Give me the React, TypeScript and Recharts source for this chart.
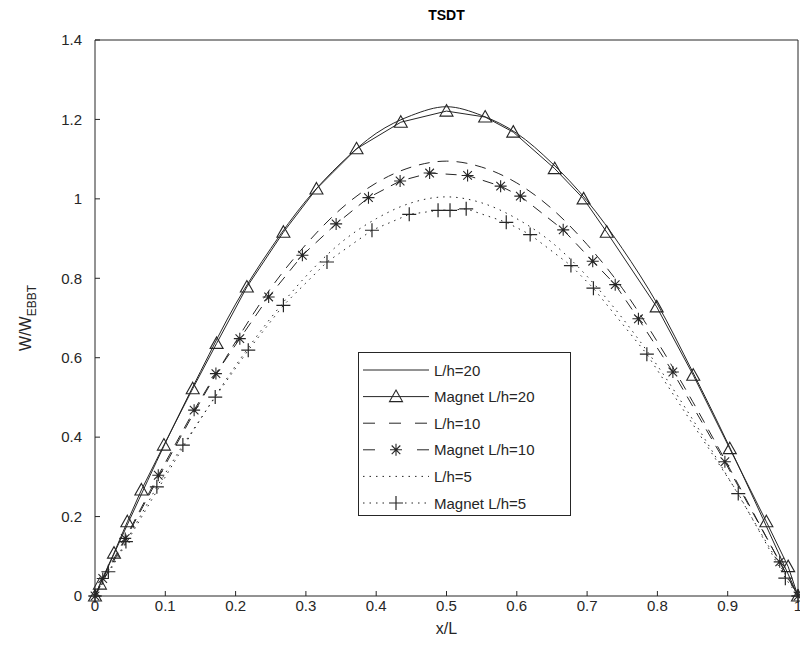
import { LineChart, Line, XAxis, YAxis, Legend, Label } from "recharts";

const INK = "#262626";
const FONT = "'Liberation Sans', Arial, Helvetica, sans-serif";

// smooth reference curves, sampled every 0.05 in x/L
const X_GRID = [0, 0.05, 0.1, 0.15, 0.2, 0.25, 0.3, 0.35, 0.4, 0.45, 0.5, 0.55, 0.6, 0.65, 0.7, 0.75, 0.8, 0.85, 0.9, 0.95, 1];
const LH20 = [0, 0.195, 0.385, 0.565, 0.735, 0.875, 0.995, 1.09, 1.165, 1.21, 1.232, 1.21, 1.165, 1.09, 0.995, 0.875, 0.735, 0.565, 0.385, 0.195, 0];
const LH10 = [0, 0.165, 0.33, 0.49, 0.64, 0.775, 0.885, 0.975, 1.04, 1.08, 1.095, 1.08, 1.04, 0.975, 0.885, 0.775, 0.64, 0.49, 0.33, 0.165, 0];
const LH5 = [0, 0.15, 0.3, 0.445, 0.58, 0.7, 0.805, 0.89, 0.95, 0.99, 1.005, 0.99, 0.95, 0.89, 0.805, 0.7, 0.58, 0.445, 0.3, 0.15, 0];

// magnet results (irregular x)
const MAG20_X = [0, 0.007, 0.027, 0.046, 0.066, 0.098, 0.139, 0.173, 0.216, 0.268, 0.315, 0.372, 0.435, 0.5, 0.555, 0.595, 0.654, 0.695, 0.728, 0.799, 0.851, 0.903, 0.955, 0.986, 1];
const MAG20_Y = [0, 0.03, 0.108, 0.187, 0.267, 0.38, 0.522, 0.636, 0.778, 0.916, 1.025, 1.126, 1.193, 1.221, 1.206, 1.168, 1.076, 1.0, 0.916, 0.728, 0.556, 0.371, 0.187, 0.074, 0];
const MAG10_X = [0, 0.011, 0.043, 0.09, 0.141, 0.172, 0.206, 0.247, 0.295, 0.343, 0.389, 0.434, 0.476, 0.53, 0.577, 0.605, 0.666, 0.708, 0.74, 0.773, 0.822, 0.896, 0.974, 1];
const MAG10_Y = [0, 0.044, 0.145, 0.304, 0.468, 0.56, 0.648, 0.753, 0.858, 0.937, 1.003, 1.045, 1.065, 1.059, 1.032, 1.007, 0.922, 0.843, 0.784, 0.698, 0.564, 0.338, 0.086, 0];
const MAG5_X = [0, 0.019, 0.044, 0.088, 0.125, 0.171, 0.218, 0.268, 0.33, 0.394, 0.447, 0.488, 0.505, 0.528, 0.585, 0.619, 0.677, 0.709, 0.785, 0.915, 0.982, 1];
const MAG5_Y = [0, 0.061, 0.137, 0.275, 0.38, 0.501, 0.619, 0.732, 0.841, 0.921, 0.961, 0.971, 0.971, 0.975, 0.941, 0.91, 0.832, 0.775, 0.609, 0.258, 0.045, 0];

const X_TICKS = [0, 0.1, 0.2, 0.3, 0.4, 0.5, 0.6, 0.7, 0.8, 0.9, 1];
const Y_TICKS = [0, 0.2, 0.4, 0.6, 0.8, 1, 1.2, 1.4];

const pts = (xs: number[], ys: number[]) => xs.map((x, i) => ({ x, y: ys[i] }));

const DASH = "11 8";
const DOT = "1.5 5";

function marker(kind: string | null, cx: number, cy: number, key?: any) {
  if (kind === "tri")
    return (
      <path key={key} d={`M${cx},${cy - 6.5}L${cx + 6.5},${cy + 5}L${cx - 6.5},${cy + 5}Z`} fill="none" stroke={INK} strokeWidth={1.1} />
    );
  if (kind === "star") {
    const r = 6, d = 4.3;
    return (
      <path key={key} d={`M${cx - r},${cy}H${cx + r}M${cx},${cy - r}V${cy + r}M${cx - d},${cy - d}L${cx + d},${cy + d}M${cx - d},${cy + d}L${cx + d},${cy - d}`} stroke={INK} strokeWidth={1.1} />
    );
  }
  if (kind === "plus") {
    const r = 7;
    return <path key={key} d={`M${cx - r},${cy}H${cx + r}M${cx},${cy - r}V${cy + r}`} stroke={INK} strokeWidth={1.2} />;
  }
  return null;
}

const dotOf = (kind: string) => (p: any) => {
  if (p.cx == null || p.cy == null) return <g key={p.index} />;
  return marker(kind, p.cx, p.cy, p.index) as any;
};

const LEGEND_ROWS = [
  { name: "L/h=20", dash: undefined, mk: null },
  { name: "Magnet L/h=20", dash: undefined, mk: "tri" },
  { name: "L/h=10", dash: "12 14", mk: null },
  { name: "Magnet L/h=10", dash: "12 42", mk: "star" },
  { name: "L/h=5", dash: "1.5 5", mk: null },
  { name: "Magnet L/h=5", dash: "1.5 5", mk: "plus" },
];

function LegendBox() {
  return (
    <div style={{ width: 211, height: 162, border: `1px solid ${INK}`, background: "#fff" }}>
      <svg width={211} height={162} style={{ display: "block" }}>
        {LEGEND_ROWS.map((r, i) => {
          const y = 17 + i * 26.6;
          const gapped = r.mk === "plus";
          return (
            <g key={r.name}>
              {gapped ? (
                <>
                  <line x1={4} x2={30} y1={y} y2={y} stroke={INK} strokeDasharray={r.dash} />
                  <line x1={46} x2={70} y1={y} y2={y} stroke={INK} strokeDasharray={r.dash} />
                </>
              ) : (
                <line x1={4} x2={70} y1={y} y2={y} stroke={INK} strokeDasharray={r.dash} />
              )}
              {marker(r.mk, 37, y)}
              <text x={75} y={y} dominantBaseline="central" fontSize={15} fill={INK} fontFamily={FONT}>
                {r.name}
              </text>
            </g>
          );
        })}
      </svg>
    </div>
  );
}

const tickStyle = { fill: INK, fontSize: 15, fontFamily: FONT };

export default function App() {
  return (
    <div style={{ position: "absolute", left: 0, top: 0, width: 800, height: 661, background: "#fff" }}>
      <LineChart width={800} height={661} margin={{ top: 30, right: 0, bottom: 35, left: 35 }} style={{ fontFamily: FONT }}>
        <XAxis
          dataKey="x"
          type="number"
          domain={[0, 1]}
          ticks={X_TICKS}
          height={30}
          tickSize={-5}
          tickMargin={9}
          tick={tickStyle}
          stroke={INK}
          interval={0}
        >
          <Label value="x/L" position="insideBottom" offset={-8} fill={INK} fontSize={16} fontFamily={FONT} />
        </XAxis>
        <XAxis
          xAxisId="top"
          orientation="top"
          type="number"
          domain={[0, 1]}
          ticks={X_TICKS}
          height={10}
          tickSize={-5}
          tick={false}
          stroke={INK}
          interval={0}
        >
          <Label value="TSDT" position="top" offset={10} fill="#000" fontSize={14} fontWeight="bold" fontFamily={FONT} />
        </XAxis>
        <YAxis
          type="number"
          domain={[0, 1.4]}
          ticks={Y_TICKS}
          width={60}
          tickSize={-5}
          tickMargin={18}
          tick={tickStyle}
          stroke={INK}
          interval={0}
        >
          <Label
            content={({ viewBox }: any) => {
              const cy = viewBox.y + viewBox.height / 2;
              const cx = 31;
              return (
                <text x={cx} y={cy} transform={`rotate(-90, ${cx}, ${cy})`} textAnchor="middle" fill={INK} fontSize={16} fontFamily={FONT}>
                  W/W
                  <tspan dy={5} fontSize={12}>EBBT</tspan>
                </text>
              );
            }}
          />
        </YAxis>
        <YAxis
          yAxisId="right"
          orientation="right"
          type="number"
          domain={[0, 1.4]}
          ticks={Y_TICKS}
          width={2}
          tickSize={-5}
          tick={false}
          stroke={INK}
          interval={0}
        />
        <Legend
          layout="vertical"
          align="center"
          verticalAlign="middle"
          content={() => <LegendBox />}
          wrapperStyle={{ position: "absolute", left: 358, top: 352, width: 213, height: 164 }}
        />
        <Line data={pts(X_GRID, LH20)} dataKey="y" type="monotone" stroke={INK} strokeWidth={1} dot={false} activeDot={false} isAnimationActive={false} />
        <Line data={pts(MAG20_X, MAG20_Y)} dataKey="y" type="linear" stroke={INK} strokeWidth={1} dot={dotOf("tri")} activeDot={false} isAnimationActive={false} />
        <Line data={pts(X_GRID, LH10)} dataKey="y" type="monotone" stroke={INK} strokeWidth={1} strokeDasharray={DASH} dot={false} activeDot={false} isAnimationActive={false} />
        <Line data={pts(MAG10_X, MAG10_Y)} dataKey="y" type="linear" stroke={INK} strokeWidth={1} strokeDasharray={DASH} dot={dotOf("star")} activeDot={false} isAnimationActive={false} />
        <Line data={pts(X_GRID, LH5)} dataKey="y" type="monotone" stroke={INK} strokeWidth={1} strokeDasharray={DOT} dot={false} activeDot={false} isAnimationActive={false} />
        <Line data={pts(MAG5_X, MAG5_Y)} dataKey="y" type="linear" stroke={INK} strokeWidth={1} strokeDasharray={DOT} dot={dotOf("plus")} activeDot={false} isAnimationActive={false} />
      </LineChart>
    </div>
  );
}
